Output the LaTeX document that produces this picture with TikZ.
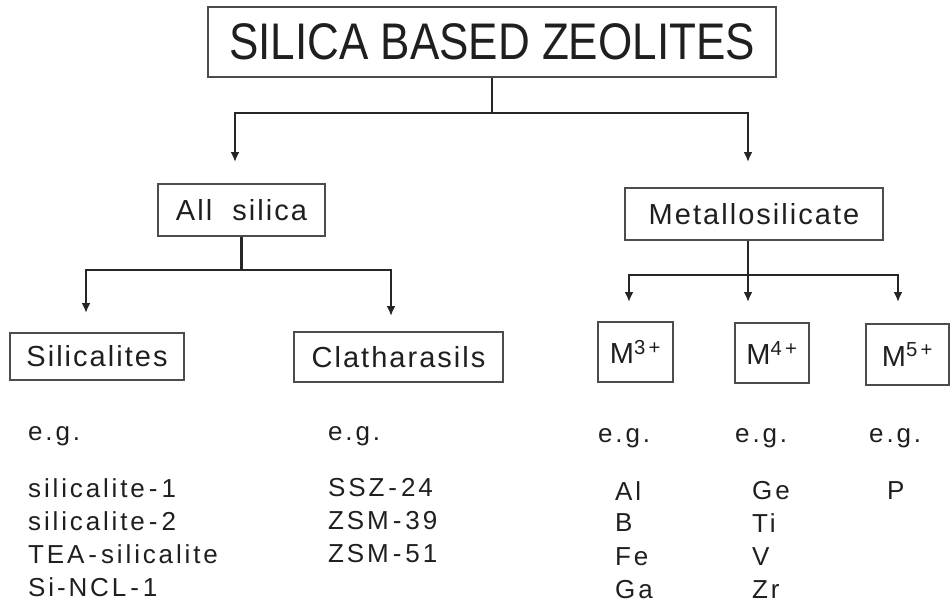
\documentclass[tikz,border=0pt]{standalone}
\usepackage{fontspec}
\usepackage{graphicx}
\setmainfont{Liberation Sans}
\newfontfamily\spacedA{Liberation Sans}[LetterSpace=7]
\newfontfamily\spacedB{Liberation Sans}[LetterSpace=11]
\newcommand{\hy}{\hspace{4pt}-\hspace{4pt}}
\usetikzlibrary{arrows.meta}
\begin{document}
\begin{tikzpicture}[x=1pt,y=-1pt,
  box/.style={draw=black!70, line width=1.4pt, rectangle, inner sep=0pt, text=black!88},
  conn/.style={draw=black!85, line width=2.6pt},
  arr/.style={conn, -{Latex[length=10pt,width=9pt]}},
  lbl/.style={font=\spacedA\fontsize{29}{32}\selectfont},
  txt/.style={anchor=west, inner sep=0pt, text=black!88, font=\spacedB\fontsize{26}{28}\selectfont}]
\useasboundingbox (0,0) rectangle (950,605);
% boxes
\node[box, minimum width=568, minimum height=70, font=\fontsize{44}{48}\selectfont] (title) at (492,42) {\scalebox{1}[1.17]{SILICA BASED ZEOLITES}};
\node[box, lbl, minimum width=167, minimum height=52] (allsil) at (241.5,210) {All\ \ silica};
\node[box, lbl, minimum width=258, minimum height=52] (metallo) at (754,214) {Metallosilicate};
\node[box, lbl, minimum width=174, minimum height=47] (silicalites) at (97,356.5) {Silicalites};
\node[box, lbl, minimum width=209, minimum height=50] (clath) at (398.5,357) {Clatharasils};
\node[box, lbl, minimum width=75, minimum height=60] (m3) at (635.5,352) {M\textsuperscript{3\,+}};
\node[box, lbl, minimum width=74, minimum height=60] (m4) at (772,353) {M\textsuperscript{4\,+}};
\node[box, lbl, minimum width=83, minimum height=61] (m5) at (907.5,354.5) {M\textsuperscript{5\,+}};
% connector points
\coordinate (tA) at (235,113);
\coordinate (tB) at (748,113);
\coordinate (tAe) at (235,162);
\coordinate (tBe) at (748,162);
\coordinate (aA) at (86,270);
\coordinate (aB) at (391,270);
\coordinate (aAe) at (86,313);
\coordinate (aBe) at (391,316);
\coordinate (mA) at (629,275);
\coordinate (mM) at (748,275);
\coordinate (mB) at (898,275);
\coordinate (mAe) at (629,302);
\coordinate (mMe) at (748,302);
\coordinate (mBe) at (898,302);
% connectors
\draw[conn] (title.south) -- (title.south |- tA);
\draw[arr] (tB) -- (tA) -- (tAe);
\draw[arr] (tA) -- (tB) -- (tBe);
\draw[conn] (allsil.south) -- (allsil.south |- aA);
\draw[arr] (aB) -- (aA) -- (aAe);
\draw[arr] (aA) -- (aB) -- (aBe);
\draw[arr] (metallo.south -| mM) -- (mMe);
\draw[arr] (mB) -- (mA) -- (mAe);
\draw[arr] (mA) -- (mB) -- (mBe);
% examples
\node[txt] (eg1) at (28,436) {e.g.};
\node[txt] (eg2) at (328,436) {e.g.};
\node[txt] (eg3) at (598,438) {e.g.};
\node[txt] (eg4) at (735,438) {e.g.};
\node[txt] (eg5) at (869,438) {e.g.};
\node[txt] (s1) at (28,488) {silicalite\hy 1};
\node[txt] (s2) at (28,521) {silicalite\hy 2};
\node[txt] (s3) at (28,554) {TEA\hy silicalite};
\node[txt] (s4) at (28,587) {Si-NCL\hy 1};
\node[txt] (c1) at (328,488) {SSZ\hy 24};
\node[txt] (c2) at (328,521) {ZSM\hy 39};
\node[txt] (c3) at (328,554) {ZSM\hy 51};
\node[txt] (a1) at (615,491) {Al};
\node[txt] (a2) at (615,523) {B};
\node[txt] (a3) at (615,557) {Fe};
\node[txt] (a4) at (615,590) {Ga};
\node[txt] (g1) at (752,491) {Ge};
\node[txt] (g2) at (752,523) {Ti};
\node[txt] (g3) at (752,557) {V};
\node[txt] (g4) at (752,590) {Zr};
\node[txt] (p1) at (887,491) {P};
\end{tikzpicture}
\end{document}
